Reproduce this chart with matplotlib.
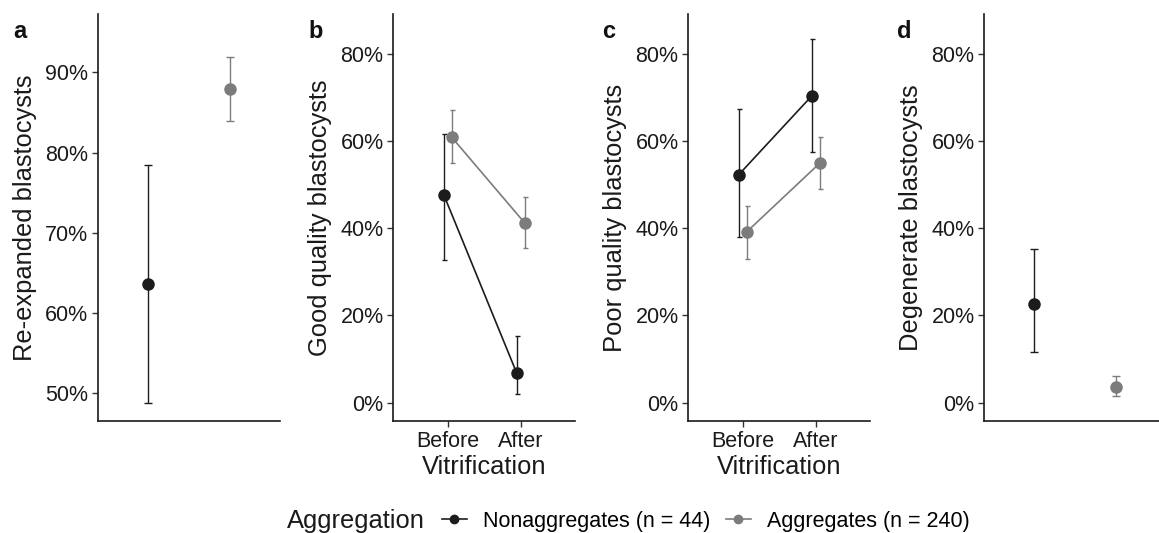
import matplotlib.pyplot as plt
from matplotlib.lines import Line2D
from matplotlib.ticker import FuncFormatter
import numpy as np

plt.rcParams["font.family"] = ["Liberation Sans", "DejaVu Sans"]

# Data (percent)
groups = ["Nonaggregates (n = 44)", "Aggregates (n = 240)"]
colors = ["#1c1c1c", "#7c7c7c"]
stages = ["Before", "After"]

# a: re-expanded blastocysts
reexp_mean = [63.6, 87.9]
reexp_low = [48.8, 83.9]
reexp_high = [78.5, 91.9]

# b: good quality (before, after) per group
good_mean = [[47.6, 6.8], [60.8, 41.2]]
good_low = [[32.6, 2.1], [55.0, 35.4]]
good_high = [[61.7, 15.3], [67.0, 47.2]]

# c: poor quality
poor_mean = [[52.3, 70.3], [39.2, 54.9]]
poor_low = [[38.0, 57.4], [32.9, 49.0]]
poor_high = [[67.3, 83.3], [45.1, 60.9]]

# d: degenerate
degen_mean = [22.6, 3.7]
degen_low = [11.6, 1.5]
degen_high = [35.3, 6.1]

W, H = 1159, 533
fig = plt.figure(figsize=(W / 100, H / 100), dpi=100)

ax_bottom = 1 - 421 / H
ax_height = (421 - 14) / H
ax_width = 182 / W
lefts = [98, 393.3, 688.3, 984.3]
axes = [fig.add_axes([l / W, ax_bottom, ax_width, ax_height]) for l in lefts]

pct = FuncFormatter(lambda v, p: f"{v:.0f}%")


def style(ax):
    for s in ["top", "right"]:
        ax.spines[s].set_visible(False)
    for s in ["left", "bottom"]:
        ax.spines[s].set_linewidth(1.2)
        ax.spines[s].set_color("#1a1a1a")
    ax.tick_params(axis="both", length=4, width=1.0, color="#333333",
                   labelsize=15.5, labelcolor="#1a1a1a", pad=3)
    ax.yaxis.set_major_formatter(pct)


def single_panel(ax, mean, low, high, ylabel):
    offs = [-0.27, 0.27]
    for i in range(2):
        ax.errorbar(offs[i], mean[i],
                    yerr=[[mean[i] - low[i]], [high[i] - mean[i]]],
                    fmt="o", color=colors[i], ms=8, elinewidth=1.0,
                    capsize=3.2, capthick=1.0)
    ax.set_xlim(-0.6, 0.6)
    ax.set_xticks([])
    ax.set_ylabel(ylabel, fontsize=18.4, labelpad=6, color="#1a1a1a")


def paired_panel(ax, mean, low, high, ylabel):
    x = np.arange(1, 3)
    offs = [-0.055, 0.055]
    for i in range(2):
        m = np.array(mean[i])
        lo = m - np.array(low[i])
        hi = np.array(high[i]) - m
        ax.errorbar(x + offs[i], m, yerr=[lo, hi], fmt="-o", color=colors[i],
                    ms=8, lw=1.2, elinewidth=1.0, capsize=1.8, capthick=1.0)
    ax.set_xlim(0.25, 2.75)
    ax.set_xticks(x)
    ax.set_xticklabels(stages)
    ax.tick_params(axis="x", pad=5)
    ax.set_xlabel("Vitrification", fontsize=18.4, labelpad=2, color="#1a1a1a")
    ax.set_ylabel(ylabel, fontsize=18.4, labelpad=6, color="#1a1a1a")


single_panel(axes[0], reexp_mean, reexp_low, reexp_high, "Re-expanded blastocysts")
axes[0].set_ylim(46.5, 97.3)
axes[0].set_yticks([50, 60, 70, 80, 90])

paired_panel(axes[1], good_mean, good_low, good_high, "Good quality blastocysts")
paired_panel(axes[2], poor_mean, poor_low, poor_high, "Poor quality blastocysts")

single_panel(axes[3], degen_mean, degen_low, degen_high, "Degenerate blastocysts")

for ax in axes[1:]:
    ax.set_ylim(-4.2, 89.1)
    ax.set_yticks([0, 20, 40, 60, 80])

for ax in axes:
    style(ax)

# panel letters
for letter, xp in zip("abcd", [13, 308, 602, 897]):
    fig.text(xp / W, 1 - 38 / H, letter, fontsize=17, fontweight="bold",
             va="baseline", ha="left", color="#111111")

# legend
fig.text(287 / W, 1 - 521 / H, "Aggregation", fontsize=18.4, va="center",
         ha="left", color="#1a1a1a")
handles = [Line2D([], [], color=c, marker="o", ms=6, lw=1.2) for c in colors]
fig.legend(handles, groups, loc="center left",
           bbox_to_anchor=(442 / W, 1 - 521 / H), ncol=2, frameon=False,
           fontsize=15.5, handlelength=1.15, handletextpad=0.74,
           columnspacing=0.74, borderpad=0, borderaxespad=0)

fig.savefig("out.png", dpi=100)
